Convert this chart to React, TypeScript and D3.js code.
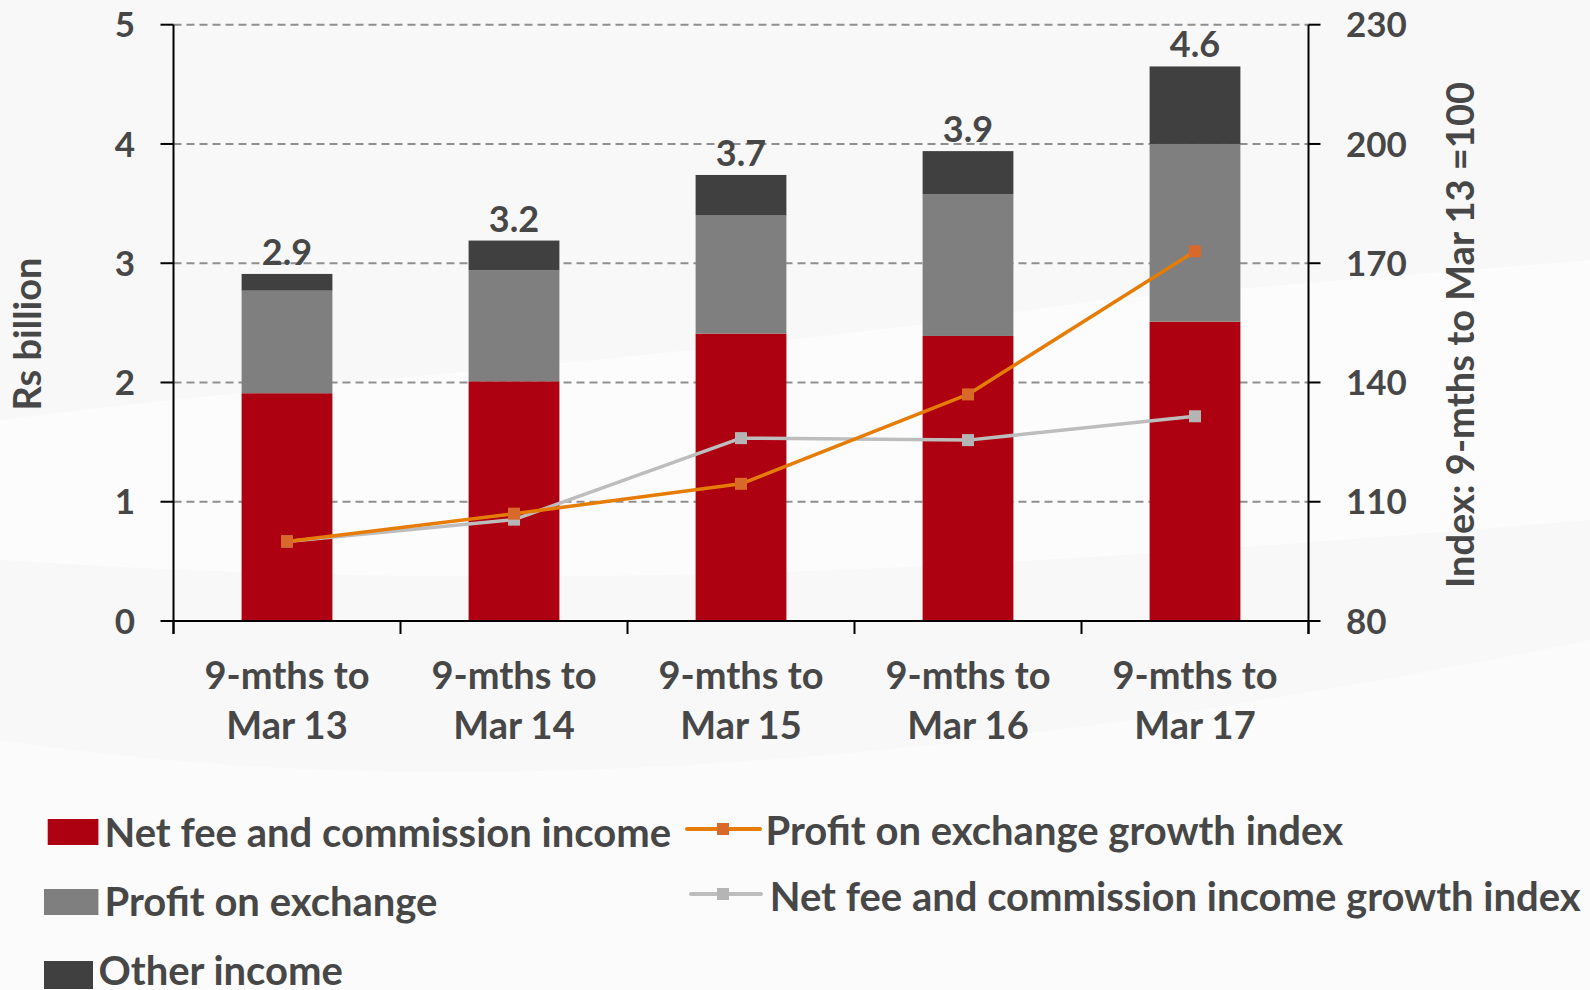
import React from "react";
import * as d3 from "d3";

const categories = ["9-mths to Mar 13", "9-mths to Mar 14", "9-mths to Mar 15", "9-mths to Mar 16", "9-mths to Mar 17"];
const netFee = [1.91, 2.01, 2.41, 2.39, 2.51];
const profitExchange = [0.86, 0.93, 0.99, 1.19, 1.49];
const otherIncome = [0.14, 0.25, 0.34, 0.36, 0.65];
const totalLabels = ["2.9", "3.2", "3.7", "3.9", "4.6"];
const profitIndex = [100, 107, 114.5, 137, 173];
const netFeeIndex = [100, 105.5, 126, 125.5, 131.5];
const leftTicks = [0, 1, 2, 3, 4, 5];
const rightTicks = [80, 110, 140, 170, 200, 230];

const stackSeries = [
  { name: "Net fee and commission income", values: netFee, color: "#AD0010" },
  { name: "Profit on exchange", values: profitExchange, color: "#7F7F7F" },
  { name: "Other income", values: otherIncome, color: "#404040" },
];
const lineSeries = [
  { name: "Net fee and commission income growth index", values: netFeeIndex, color: "#BDBDBD", marker: "#B5B5B5" },
  { name: "Profit on exchange growth index", values: profitIndex, color: "#E57C05", marker: "#D9692B" },
];

const W = 1590;
const H = 990;
const L = 173.5;
const R = 1308.5;
const T = 24.7;
const B = 621;
const FONT = "Lato, 'Open Sans', sans-serif";
const TXT = "#474747";

export default function App() {
  const x = d3.scaleBand<string>().domain(categories).range([L, R]).paddingInner(0.6).paddingOuter(0.3);
  const y = d3.scaleLinear().domain([0, 5]).range([B, T]);
  const y2 = d3.scaleLinear().domain([80, 230]).range([B, T]);
  const step = x.step();
  const bw = x.bandwidth();

  const rows = categories.map((c, i) => ({ c, a: netFee[i], b: profitExchange[i], o: otherIncome[i] }));
  const stacked = d3.stack<any>().keys(["a", "b", "o"])(rows);

  const line = d3
    .line<number>()
    .x((_, i) => (x(categories[i]) as number) + bw / 2)
    .y((v) => y2(v));

  const boundaries = d3.range(categories.length + 1).map((k) => L + k * step);

  return (
    <svg width={W} height={H} style={{ position: "absolute", left: 0, top: 0 }} fontFamily={FONT}>
      <rect x={0} y={0} width={W} height={H} fill="#F8F8F9" />
      <path d="M0,420 C300,380 700,360 1100,300 L1590,260 L1590,520 C1100,560 600,600 0,560 Z" fill="#FCFCFD" opacity={0.8} />
      <path d="M0,740 C400,800 900,780 1590,640 L1590,990 L0,990 Z" fill="#FBFBFC" opacity={0.9} />

      {/* gridlines */}
      {leftTicks.filter((t) => t > 0).map((t) => (
        <line key={"g" + t} x1={L} x2={R} y1={y(t)} y2={y(t)} stroke="#8F8F8F" strokeWidth={2} strokeDasharray="8,5" />
      ))}

      {/* bars */}
      {stacked.map((s, si) =>
        s.map((d, i) => (
          <rect
            key={si + "-" + i}
            x={x(categories[i])}
            y={y(d[1])}
            width={bw}
            height={y(d[0]) - y(d[1])}
            fill={stackSeries[si].color}
          />
        ))
      )}

      {/* total labels */}
      {categories.map((c, i) => (
        <text
          key={"tl" + i}
          x={(x(c) as number) + bw / 2}
          y={y(stacked[2][i][1]) - 9}
          textAnchor="middle"
          fontSize={36}
          fontWeight={700}
          fill={TXT}
        >
          {totalLabels[i]}
        </text>
      ))}

      {/* axes */}
      <line x1={L} x2={L} y1={T} y2={B + 13} stroke="#000" strokeWidth={2} />
      <line x1={R} x2={R} y1={T} y2={B + 13} stroke="#000" strokeWidth={2} />
      <line x1={L - 1} x2={R + 1} y1={B} y2={B} stroke="#000" strokeWidth={2} />
      {boundaries.map((bx, k) => (
        <line key={"xt" + k} x1={bx} x2={bx} y1={B} y2={B + 13} stroke="#000" strokeWidth={2} />
      ))}
      {leftTicks.map((t) => (
        <g key={"lt" + t}>
          <line x1={L - 13} x2={L} y1={y(t)} y2={y(t)} stroke="#000" strokeWidth={2} />
          <text x={135} y={y(t)} dy="0.36em" textAnchor="end" fontSize={35} fontWeight={700} fill={TXT}>
            {t}
          </text>
        </g>
      ))}
      {rightTicks.map((t) => (
        <g key={"rt" + t}>
          <line x1={R} x2={R + 12} y1={y2(t)} y2={y2(t)} stroke="#000" strokeWidth={2} />
          <text x={1346} y={y2(t)} dy="0.36em" textAnchor="start" fontSize={35} fontWeight={700} fill={TXT}>
            {t}
          </text>
        </g>
      ))}

      {/* category labels */}
      {categories.map((c) => {
        const parts = c.split(" to ");
        const cx = (x(c) as number) + bw / 2;
        return (
          <text key={"c" + c} x={cx} textAnchor="middle" fontSize={38} fontWeight={700} fill={TXT}>
            <tspan x={cx} y={689}>{parts[0] + " to"}</tspan>
            <tspan x={cx} y={739}>{parts[1]}</tspan>
          </text>
        );
      })}

      {/* axis titles */}
      <text transform="translate(41,334) rotate(-90)" textAnchor="middle" fontSize={38} fontWeight={700} fill={TXT}>
        Rs billion
      </text>
      <text transform="translate(1474,335) rotate(-90)" textAnchor="middle" fontSize={38} fontWeight={700} fill={TXT}>
        Index: 9-mths to Mar 13 =100
      </text>

      {/* lines */}
      {lineSeries.map((s) => (
        <g key={s.name}>
          <path d={line(s.values) as string} fill="none" stroke={s.color} strokeWidth={3.5} strokeLinejoin="round" />
          {s.values.map((v, i) => (
            <rect
              key={i}
              x={(x(categories[i]) as number) + bw / 2 - 6}
              y={y2(v) - 6}
              width={12}
              height={12}
              fill={s.marker}
            />
          ))}
        </g>
      ))}

      {/* legend */}
      <g fontSize={40} fontWeight={700} fill={TXT}>
        <rect x={47.7} y={819} width={50.7} height={26} fill={stackSeries[0].color} />
        <text x={104.5} y={847}>{stackSeries[0].name}</text>
        <rect x={44} y={889} width={54.4} height={26} fill={stackSeries[1].color} />
        <text x={104.5} y={916}>{stackSeries[1].name}</text>
        <rect x={44} y={961} width={49} height={28} fill={stackSeries[2].color} />
        <text x={98.5} y={985}>{stackSeries[2].name}</text>

        <line x1={687} x2={760} y1={829} y2={829} stroke={lineSeries[1].color} strokeWidth={4} strokeLinecap="round" />
        <rect x={717} y={823} width={12} height={12} fill={lineSeries[1].marker} />
        <text x={765.6} y={845}>{lineSeries[1].name}</text>
        <line x1={691} x2={761} y1={894} y2={894} stroke={lineSeries[0].color} strokeWidth={4} strokeLinecap="round" />
        <rect x={717} y={888} width={12} height={12} fill={lineSeries[0].marker} />
        <text x={769.7} y={911}>{lineSeries[0].name}</text>
      </g>
    </svg>
  );
}
